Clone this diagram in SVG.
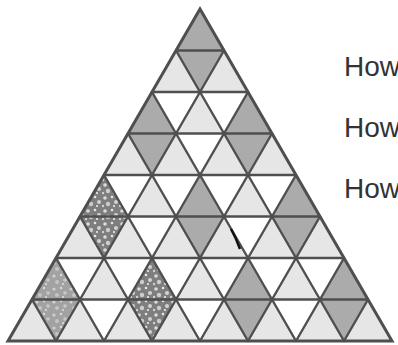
<svg xmlns="http://www.w3.org/2000/svg" width="398" height="345" viewBox="0 0 398 345">
<style>
.lt{fill:#e6e6e6;stroke:none}
.dm{fill:#ababab;stroke:none}
.sp{fill:url(#spk);stroke:none}
.sp2{fill:url(#spk2);stroke:none}
.grid{fill:none;stroke:#4f4f4f;stroke-width:2.4;stroke-linecap:round}
.edge{fill:none;stroke:#4f4f4f;stroke-width:3;stroke-linejoin:miter}
.lbl{font-family:"Liberation Sans",Arial,sans-serif;font-size:28px;fill:#333}
</style>
<defs>
<pattern id="spk" width="17" height="13" patternUnits="userSpaceOnUse">
<rect width="17" height="13" fill="#7e7e7e"/>
<circle cx="3" cy="3" r="1.8" fill="#dcdcdc"/>
<circle cx="10" cy="2" r="1.3" fill="#e6e6e6"/>
<circle cx="14" cy="7" r="2" fill="#d2d2d2"/>
<circle cx="6" cy="9" r="2.2" fill="#cccccc"/>
<circle cx="12" cy="11" r="1.1" fill="#eaeaea"/>
<circle cx="1" cy="11" r="1.2" fill="#d4d4d4"/>
</pattern>
<pattern id="spk2" width="17" height="13" patternUnits="userSpaceOnUse">
<rect width="17" height="13" fill="#a2a2a2"/>
<circle cx="3" cy="3" r="1.6" fill="#d2d2d2"/>
<circle cx="10" cy="2" r="1.2" fill="#dcdcdc"/>
<circle cx="14" cy="7" r="1.8" fill="#c8c8c8"/>
<circle cx="6" cy="9" r="2" fill="#c4c4c4"/>
<circle cx="12" cy="11" r="1" fill="#e0e0e0"/>
</pattern>
</defs>
<rect width="398" height="345" fill="#fff"/>
<g id="light-cells">
<path class="lt" d="M176,50.5L152,92L200,92Z M224,50.5L200,92L248,92Z
M200,92L176,133.5L224,133.5Z
M128,133.5L104,175L152,175Z M176,133.5L152,175L200,175Z M224,133.5L200,175L248,175Z M272,133.5L248,175L296,175Z
M152,175L128,216.5L176,216.5Z M248,175L224,216.5L272,216.5Z
M80,216.5L56,258L104,258Z M128,216.5L104,258L152,258Z M176,216.5L152,258L200,258Z M224,216.5L200,258L248,258Z M272,216.5L248,258L296,258Z M320,216.5L296,258L344,258Z
M104,258L80,299.5L128,299.5Z M200,258L176,299.5L224,299.5Z M296,258L272,299.5L320,299.5Z
M32,299.5L8,341L56,341Z M80,299.5L56,341L104,341Z M128,299.5L104,341L152,341Z M176,299.5L152,341L200,341Z M224,299.5L200,341L248,341Z M272,299.5L248,341L296,341Z M320,299.5L296,341L344,341Z M368,299.5L344,341L392,341Z"/>
</g>
<g id="diamond-1"><path class="dm" d="M200,9L176,50.5L200,92L224,50.5Z"/></g>
<g id="diamond-2"><path class="dm" d="M152,92L128,133.5L152,175L176,133.5Z"/></g>
<g id="diamond-3"><path class="dm" d="M248,92L224,133.5L248,175L272,133.5Z"/></g>
<g id="diamond-4"><path class="sp" d="M104,175L80,216.5L104,258L128,216.5Z"/></g>
<g id="diamond-5"><path class="dm" d="M200,175L176,216.5L200,258L224,216.5Z"/></g>
<g id="diamond-6"><path class="dm" d="M296,175L272,216.5L296,258L320,216.5Z"/></g>
<g id="diamond-7"><path class="sp2" d="M56,258L32,299.5L56,341L80,299.5Z"/></g>
<g id="diamond-8"><path class="sp" d="M152,258L128,299.5L152,341L176,299.5Z"/></g>
<g id="diamond-9"><path class="dm" d="M248,258L224,299.5L248,341L272,299.5Z"/></g>
<g id="diamond-10"><path class="dm" d="M344,258L320,299.5L344,341L368,299.5Z"/></g>
<g id="grid-lines">
<path class="grid" d="M176,50.5H224 M152,92H248 M128,133.5H272 M104,175H296 M80,216.5H320 M56,258H344 M32,299.5H368
M224,50.5L56,341 M248,92L104,341 M272,133.5L152,341 M296,175L200,341 M320,216.5L248,341 M344,258L296,341 M368,299.5L344,341
M176,50.5L344,341 M152,92L296,341 M128,133.5L248,341 M104,175L200,341 M80,216.5L152,341 M56,258L104,341 M32,299.5L56,341"/>
<path class="edge" d="M200,9L8,341L392,341Z"/>
<path d="M231,229Q236,238 240,249" fill="none" stroke="#111" stroke-width="2.5"/>
</g>
<g id="labels">
<text class="lbl" x="344" y="76">How</text>
<text class="lbl" x="344" y="137">How</text>
<text class="lbl" x="344" y="198">How</text>
</g>
</svg>
